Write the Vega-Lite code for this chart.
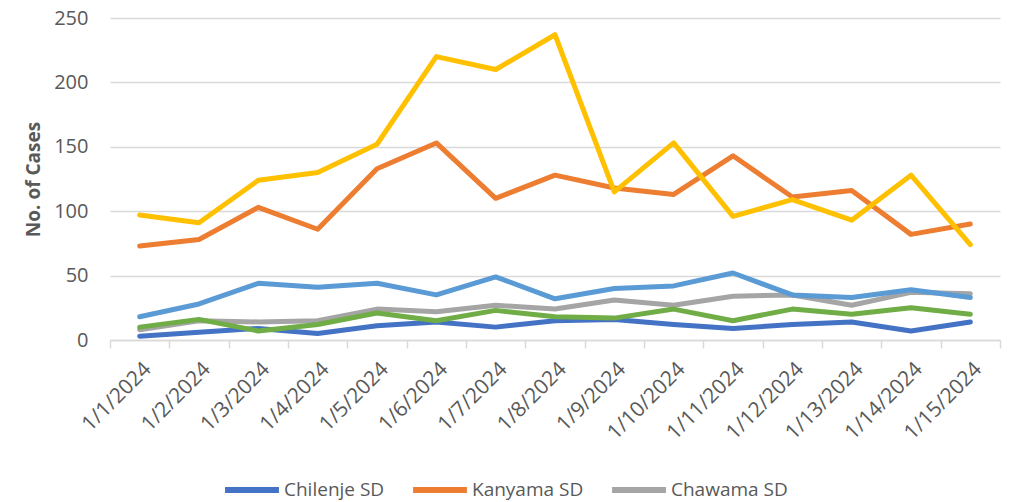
{
  "$schema": "https://vega.github.io/schema/vega-lite/v6.json",
  "width": 890,
  "height": 322,
  "autosize": "none",
  "padding": {"left": 110, "right": 11, "top": 18, "bottom": 162},
  "background": "white",
  "config": {"view": {"stroke": null}, "font": "Open Sans"},
  "data": {
    "values": [
      {"date": "1/1/2024", "d": 1, "sd": "Chilenje SD", "cases": 3},
      {"date": "1/2/2024", "d": 2, "sd": "Chilenje SD", "cases": 6},
      {"date": "1/3/2024", "d": 3, "sd": "Chilenje SD", "cases": 9},
      {"date": "1/4/2024", "d": 4, "sd": "Chilenje SD", "cases": 5},
      {"date": "1/5/2024", "d": 5, "sd": "Chilenje SD", "cases": 11},
      {"date": "1/6/2024", "d": 6, "sd": "Chilenje SD", "cases": 14},
      {"date": "1/7/2024", "d": 7, "sd": "Chilenje SD", "cases": 10},
      {"date": "1/8/2024", "d": 8, "sd": "Chilenje SD", "cases": 15},
      {"date": "1/9/2024", "d": 9, "sd": "Chilenje SD", "cases": 16},
      {"date": "1/10/2024", "d": 10, "sd": "Chilenje SD", "cases": 12},
      {"date": "1/11/2024", "d": 11, "sd": "Chilenje SD", "cases": 9},
      {"date": "1/12/2024", "d": 12, "sd": "Chilenje SD", "cases": 12},
      {"date": "1/13/2024", "d": 13, "sd": "Chilenje SD", "cases": 14},
      {"date": "1/14/2024", "d": 14, "sd": "Chilenje SD", "cases": 7},
      {"date": "1/15/2024", "d": 15, "sd": "Chilenje SD", "cases": 14},

      {"date": "1/1/2024", "d": 1, "sd": "Kanyama SD", "cases": 73},
      {"date": "1/2/2024", "d": 2, "sd": "Kanyama SD", "cases": 78},
      {"date": "1/3/2024", "d": 3, "sd": "Kanyama SD", "cases": 103},
      {"date": "1/4/2024", "d": 4, "sd": "Kanyama SD", "cases": 86},
      {"date": "1/5/2024", "d": 5, "sd": "Kanyama SD", "cases": 133},
      {"date": "1/6/2024", "d": 6, "sd": "Kanyama SD", "cases": 153},
      {"date": "1/7/2024", "d": 7, "sd": "Kanyama SD", "cases": 110},
      {"date": "1/8/2024", "d": 8, "sd": "Kanyama SD", "cases": 128},
      {"date": "1/9/2024", "d": 9, "sd": "Kanyama SD", "cases": 118},
      {"date": "1/10/2024", "d": 10, "sd": "Kanyama SD", "cases": 113},
      {"date": "1/11/2024", "d": 11, "sd": "Kanyama SD", "cases": 143},
      {"date": "1/12/2024", "d": 12, "sd": "Kanyama SD", "cases": 111},
      {"date": "1/13/2024", "d": 13, "sd": "Kanyama SD", "cases": 116},
      {"date": "1/14/2024", "d": 14, "sd": "Kanyama SD", "cases": 82},
      {"date": "1/15/2024", "d": 15, "sd": "Kanyama SD", "cases": 90},

      {"date": "1/1/2024", "d": 1, "sd": "Chawama SD", "cases": 8},
      {"date": "1/2/2024", "d": 2, "sd": "Chawama SD", "cases": 15},
      {"date": "1/3/2024", "d": 3, "sd": "Chawama SD", "cases": 14},
      {"date": "1/4/2024", "d": 4, "sd": "Chawama SD", "cases": 15},
      {"date": "1/5/2024", "d": 5, "sd": "Chawama SD", "cases": 24},
      {"date": "1/6/2024", "d": 6, "sd": "Chawama SD", "cases": 22},
      {"date": "1/7/2024", "d": 7, "sd": "Chawama SD", "cases": 27},
      {"date": "1/8/2024", "d": 8, "sd": "Chawama SD", "cases": 24},
      {"date": "1/9/2024", "d": 9, "sd": "Chawama SD", "cases": 31},
      {"date": "1/10/2024", "d": 10, "sd": "Chawama SD", "cases": 27},
      {"date": "1/11/2024", "d": 11, "sd": "Chawama SD", "cases": 34},
      {"date": "1/12/2024", "d": 12, "sd": "Chawama SD", "cases": 35},
      {"date": "1/13/2024", "d": 13, "sd": "Chawama SD", "cases": 27},
      {"date": "1/14/2024", "d": 14, "sd": "Chawama SD", "cases": 37},
      {"date": "1/15/2024", "d": 15, "sd": "Chawama SD", "cases": 36},

      {"date": "1/1/2024", "d": 1, "sd": "Matero SD", "cases": 97},
      {"date": "1/2/2024", "d": 2, "sd": "Matero SD", "cases": 91},
      {"date": "1/3/2024", "d": 3, "sd": "Matero SD", "cases": 124},
      {"date": "1/4/2024", "d": 4, "sd": "Matero SD", "cases": 130},
      {"date": "1/5/2024", "d": 5, "sd": "Matero SD", "cases": 152},
      {"date": "1/6/2024", "d": 6, "sd": "Matero SD", "cases": 220},
      {"date": "1/7/2024", "d": 7, "sd": "Matero SD", "cases": 210},
      {"date": "1/8/2024", "d": 8, "sd": "Matero SD", "cases": 237},
      {"date": "1/9/2024", "d": 9, "sd": "Matero SD", "cases": 115},
      {"date": "1/10/2024", "d": 10, "sd": "Matero SD", "cases": 153},
      {"date": "1/11/2024", "d": 11, "sd": "Matero SD", "cases": 96},
      {"date": "1/12/2024", "d": 12, "sd": "Matero SD", "cases": 109},
      {"date": "1/13/2024", "d": 13, "sd": "Matero SD", "cases": 93},
      {"date": "1/14/2024", "d": 14, "sd": "Matero SD", "cases": 128},
      {"date": "1/15/2024", "d": 15, "sd": "Matero SD", "cases": 74},

      {"date": "1/1/2024", "d": 1, "sd": "Chipata SD", "cases": 18},
      {"date": "1/2/2024", "d": 2, "sd": "Chipata SD", "cases": 28},
      {"date": "1/3/2024", "d": 3, "sd": "Chipata SD", "cases": 44},
      {"date": "1/4/2024", "d": 4, "sd": "Chipata SD", "cases": 41},
      {"date": "1/5/2024", "d": 5, "sd": "Chipata SD", "cases": 44},
      {"date": "1/6/2024", "d": 6, "sd": "Chipata SD", "cases": 35},
      {"date": "1/7/2024", "d": 7, "sd": "Chipata SD", "cases": 49},
      {"date": "1/8/2024", "d": 8, "sd": "Chipata SD", "cases": 32},
      {"date": "1/9/2024", "d": 9, "sd": "Chipata SD", "cases": 40},
      {"date": "1/10/2024", "d": 10, "sd": "Chipata SD", "cases": 42},
      {"date": "1/11/2024", "d": 11, "sd": "Chipata SD", "cases": 52},
      {"date": "1/12/2024", "d": 12, "sd": "Chipata SD", "cases": 35},
      {"date": "1/13/2024", "d": 13, "sd": "Chipata SD", "cases": 33},
      {"date": "1/14/2024", "d": 14, "sd": "Chipata SD", "cases": 39},
      {"date": "1/15/2024", "d": 15, "sd": "Chipata SD", "cases": 33},

      {"date": "1/1/2024", "d": 1, "sd": "Chelstone SD", "cases": 10},
      {"date": "1/2/2024", "d": 2, "sd": "Chelstone SD", "cases": 16},
      {"date": "1/3/2024", "d": 3, "sd": "Chelstone SD", "cases": 7},
      {"date": "1/4/2024", "d": 4, "sd": "Chelstone SD", "cases": 12},
      {"date": "1/5/2024", "d": 5, "sd": "Chelstone SD", "cases": 21},
      {"date": "1/6/2024", "d": 6, "sd": "Chelstone SD", "cases": 15},
      {"date": "1/7/2024", "d": 7, "sd": "Chelstone SD", "cases": 23},
      {"date": "1/8/2024", "d": 8, "sd": "Chelstone SD", "cases": 18},
      {"date": "1/9/2024", "d": 9, "sd": "Chelstone SD", "cases": 17},
      {"date": "1/10/2024", "d": 10, "sd": "Chelstone SD", "cases": 24},
      {"date": "1/11/2024", "d": 11, "sd": "Chelstone SD", "cases": 15},
      {"date": "1/12/2024", "d": 12, "sd": "Chelstone SD", "cases": 24},
      {"date": "1/13/2024", "d": 13, "sd": "Chelstone SD", "cases": 20},
      {"date": "1/14/2024", "d": 14, "sd": "Chelstone SD", "cases": 25},
      {"date": "1/15/2024", "d": 15, "sd": "Chelstone SD", "cases": 20}
    ]
  },
  "mark": {"type": "line", "strokeWidth": 5, "strokeJoin": "round", "strokeCap": "round"},
  "encoding": {
    "x": {
      "field": "date",
      "type": "ordinal",
      "sort": {"field": "d"},
      "bandPosition": 0.5,
      "scale": {"type": "band", "paddingInner": 0, "paddingOuter": 0},
      "axis": {
        "title": null,
        "labelAngle": -45,
        "labelFontSize": 21,
        "labelColor": "#595959",
        "labelPadding": 10,
        "tickBand": "extent",
        "tickColor": "#d9d9d9",
        "tickWidth": 1.5,
        "tickSize": 8,
        "domainColor": "#d9d9d9",
        "domainWidth": 1.5,
        "grid": false
      }
    },
    "y": {
      "field": "cases",
      "type": "quantitative",
      "scale": {"domain": [0, 250], "nice": false},
      "axis": {
        "title": "No. of Cases",
        "titleFontSize": 19,
        "titleFontWeight": "bold",
        "titleColor": "#595959",
        "titlePadding": 10,
        "values": [0, 50, 100, 150, 200, 250],
        "labelFontSize": 20,
        "labelColor": "#595959",
        "labelPadding": 22,
        "ticks": false,
        "domain": false,
        "gridColor": "#d9d9d9",
        "gridWidth": 1.5
      }
    },
    "color": {
      "field": "sd",
      "type": "nominal",
      "sort": ["Chilenje SD", "Kanyama SD", "Chawama SD", "Matero SD", "Chipata SD", "Chelstone SD"],
      "scale": {
        "domain": ["Chilenje SD", "Kanyama SD", "Chawama SD", "Matero SD", "Chipata SD", "Chelstone SD"],
        "range": ["#4472C4", "#ED7D31", "#A5A5A5", "#FFC000", "#5B9BD5", "#70AD47"]
      },
      "legend": {
        "title": null,
        "orient": "none",
        "legendX": 112,
        "legendY": 442,
        "direction": "horizontal",
        "values": ["Chilenje SD", "Kanyama SD", "Chawama SD"],
        "symbolType": "stroke",
        "symbolStrokeWidth": 6,
        "symbolSize": 2900,
        "labelFontSize": 19,
        "labelColor": "#595959",
        "columnPadding": 16,
        "labelOffset": 2
      }
    },
    "order": {"field": "d"}
  }
}
